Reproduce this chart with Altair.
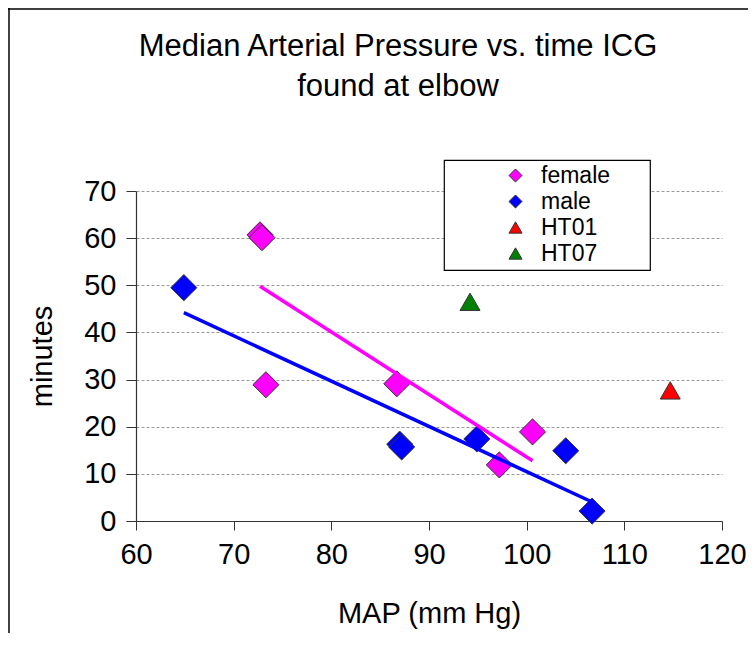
import altair as alt
import pandas as pd

# ---- data ----
female_map = [72.7, 72.9, 73.3, 86.7, 97.2, 100.6]
female_min = [60.7, 60.1, 28.9, 29.1, 11.9, 18.9]
male_map = [64.9, 87.0, 87.2, 94.9, 104.0, 106.7]
male_min = [49.5, 16.3, 15.7, 17.4, 14.9, 2.1]
ht01_map = [114.7]
ht01_min = [27.7]
ht07_map = [94.2]
ht07_min = [46.5]

series_names = ["female", "male", "HT01", "HT07"]
series_colors = ["#FF00FF", "#0000FF", "#FF0000", "#008000"]
series_shapes = ["diamond", "diamond", "triangle-up", "triangle-up"]
x_ticks = [60, 70, 80, 90, 100, 110, 120]
y_ticks = [0, 10, 20, 30, 40, 50, 60, 70]

rows = []
for name, xs, ys in [("female", female_map, female_min), ("male", male_map, male_min),
                     ("HT01", ht01_map, ht01_min), ("HT07", ht07_map, ht07_min)]:
    for a, b in zip(xs, ys):
        rows.append({"MAP": a, "minutes": b, "series": name,
                     "kind": "diamond" if name in ("female", "male") else "triangle"})
df = pd.DataFrame(rows)

FONT = "Liberation Sans"

xscale = alt.Scale(domain=[60, 120], nice=False, zero=False)
yscale = alt.Scale(domain=[0, 70], nice=False)
color_scale = alt.Scale(domain=series_names, range=series_colors)
shape_scale = alt.Scale(domain=series_names, range=series_shapes)

# invisible spacer title on the right widens the box like the reference's
legend = alt.Legend(
    title="xxx", titleOrient="right", titleFontSize=21, titleColor="rgba(0,0,0,0)",
    titlePadding=0, titleFont=FONT,
    orient="none", legendX=308, legendY=-31, padding=4,
    symbolOffset=56, labelOffset=14, labelFontSize=23, labelFont=FONT,
    labelColor="black", symbolSize=170, symbolStrokeColor="#333",
    symbolStrokeWidth=1, strokeColor="black", fillColor="white", rowPadding=2,
)

xaxis = alt.Axis(values=x_ticks, title="MAP  (mm Hg)", grid=False, tickSize=9,
                 labelPadding=10, titlePadding=30, labelFlush=False)
yaxis = alt.Axis(values=y_ticks, title="minutes", grid=True, tickSize=10,
                 labelPadding=10, titlePadding=26, gridDash=[3, 2],
                 gridColor="#9a9a9a", gridWidth=1, labelFlush=False)

base = alt.Chart(df)

diamonds = base.transform_filter(alt.datum.kind == "diamond").mark_point(
    filled=True, opacity=1, stroke="#333", strokeWidth=1, size=680
).encode(
    x=alt.X("MAP:Q", scale=xscale, axis=xaxis),
    y=alt.Y("minutes:Q", scale=yscale, axis=yaxis),
    color=alt.Color("series:N", scale=color_scale, legend=legend),
    shape=alt.Shape("series:N", scale=shape_scale, legend=legend),
)

triangles = base.transform_filter(alt.datum.kind == "triangle").mark_point(
    filled=True, opacity=1, stroke="#333", strokeWidth=1, size=400
).encode(
    x=alt.X("MAP:Q", scale=xscale),
    y=alt.Y("minutes:Q", scale=yscale),
    color=alt.Color("series:N", scale=color_scale, legend=legend),
    shape=alt.Shape("series:N", scale=shape_scale, legend=legend),
)

reg_female = base.transform_filter(alt.datum.series == "female").transform_regression(
    "MAP", "minutes"
).mark_line(color="#FF00FF", strokeWidth=3.5).encode(
    x=alt.X("MAP:Q", scale=xscale), y=alt.Y("minutes:Q", scale=yscale)
)

reg_male = base.transform_filter(alt.datum.series == "male").transform_regression(
    "MAP", "minutes"
).mark_line(color="#0000FF", strokeWidth=3.5).encode(
    x=alt.X("MAP:Q", scale=xscale), y=alt.Y("minutes:Q", scale=yscale)
)

one = pd.DataFrame({"k": [0]})
border_top = alt.Chart(one).mark_rule(color="black", strokeWidth=1.5).encode(
    x=alt.value(-128), x2=alt.value(640), y=alt.value(-182), y2=alt.value(-182)
)
border_left = alt.Chart(one).mark_rule(color="black", strokeWidth=1.5).encode(
    x=alt.value(-127), x2=alt.value(-127), y=alt.value(-183), y2=alt.value(480)
)

chart = alt.layer(
    border_top, border_left, diamonds, triangles, reg_female, reg_male
).properties(
    width=586, height=330,
    padding={"left": 128, "top": 183, "right": 26, "bottom": 112},
    autosize=alt.AutoSizeParams(type="none"),
    title=alt.TitleParams(
        text=["Median Arterial Pressure vs. time ICG", "found at elbow"],
        font=FONT, fontSize=31, fontWeight="normal", color="black",
        anchor="middle", dx=-31, offset=-96, lineHeight=40,
    ),
).configure_view(strokeWidth=0).configure_axis(
    labelFont=FONT, labelFontSize=29, labelColor="black",
    titleFont=FONT, titleFontSize=29, titleFontWeight="normal", titleColor="black",
    domainColor="#333", tickColor="#333", domainWidth=1.2,
).configure_legend(strokeWidth=1.2)

chart.save("out.html", embed_options={"renderer": "svg", "actions": False})
